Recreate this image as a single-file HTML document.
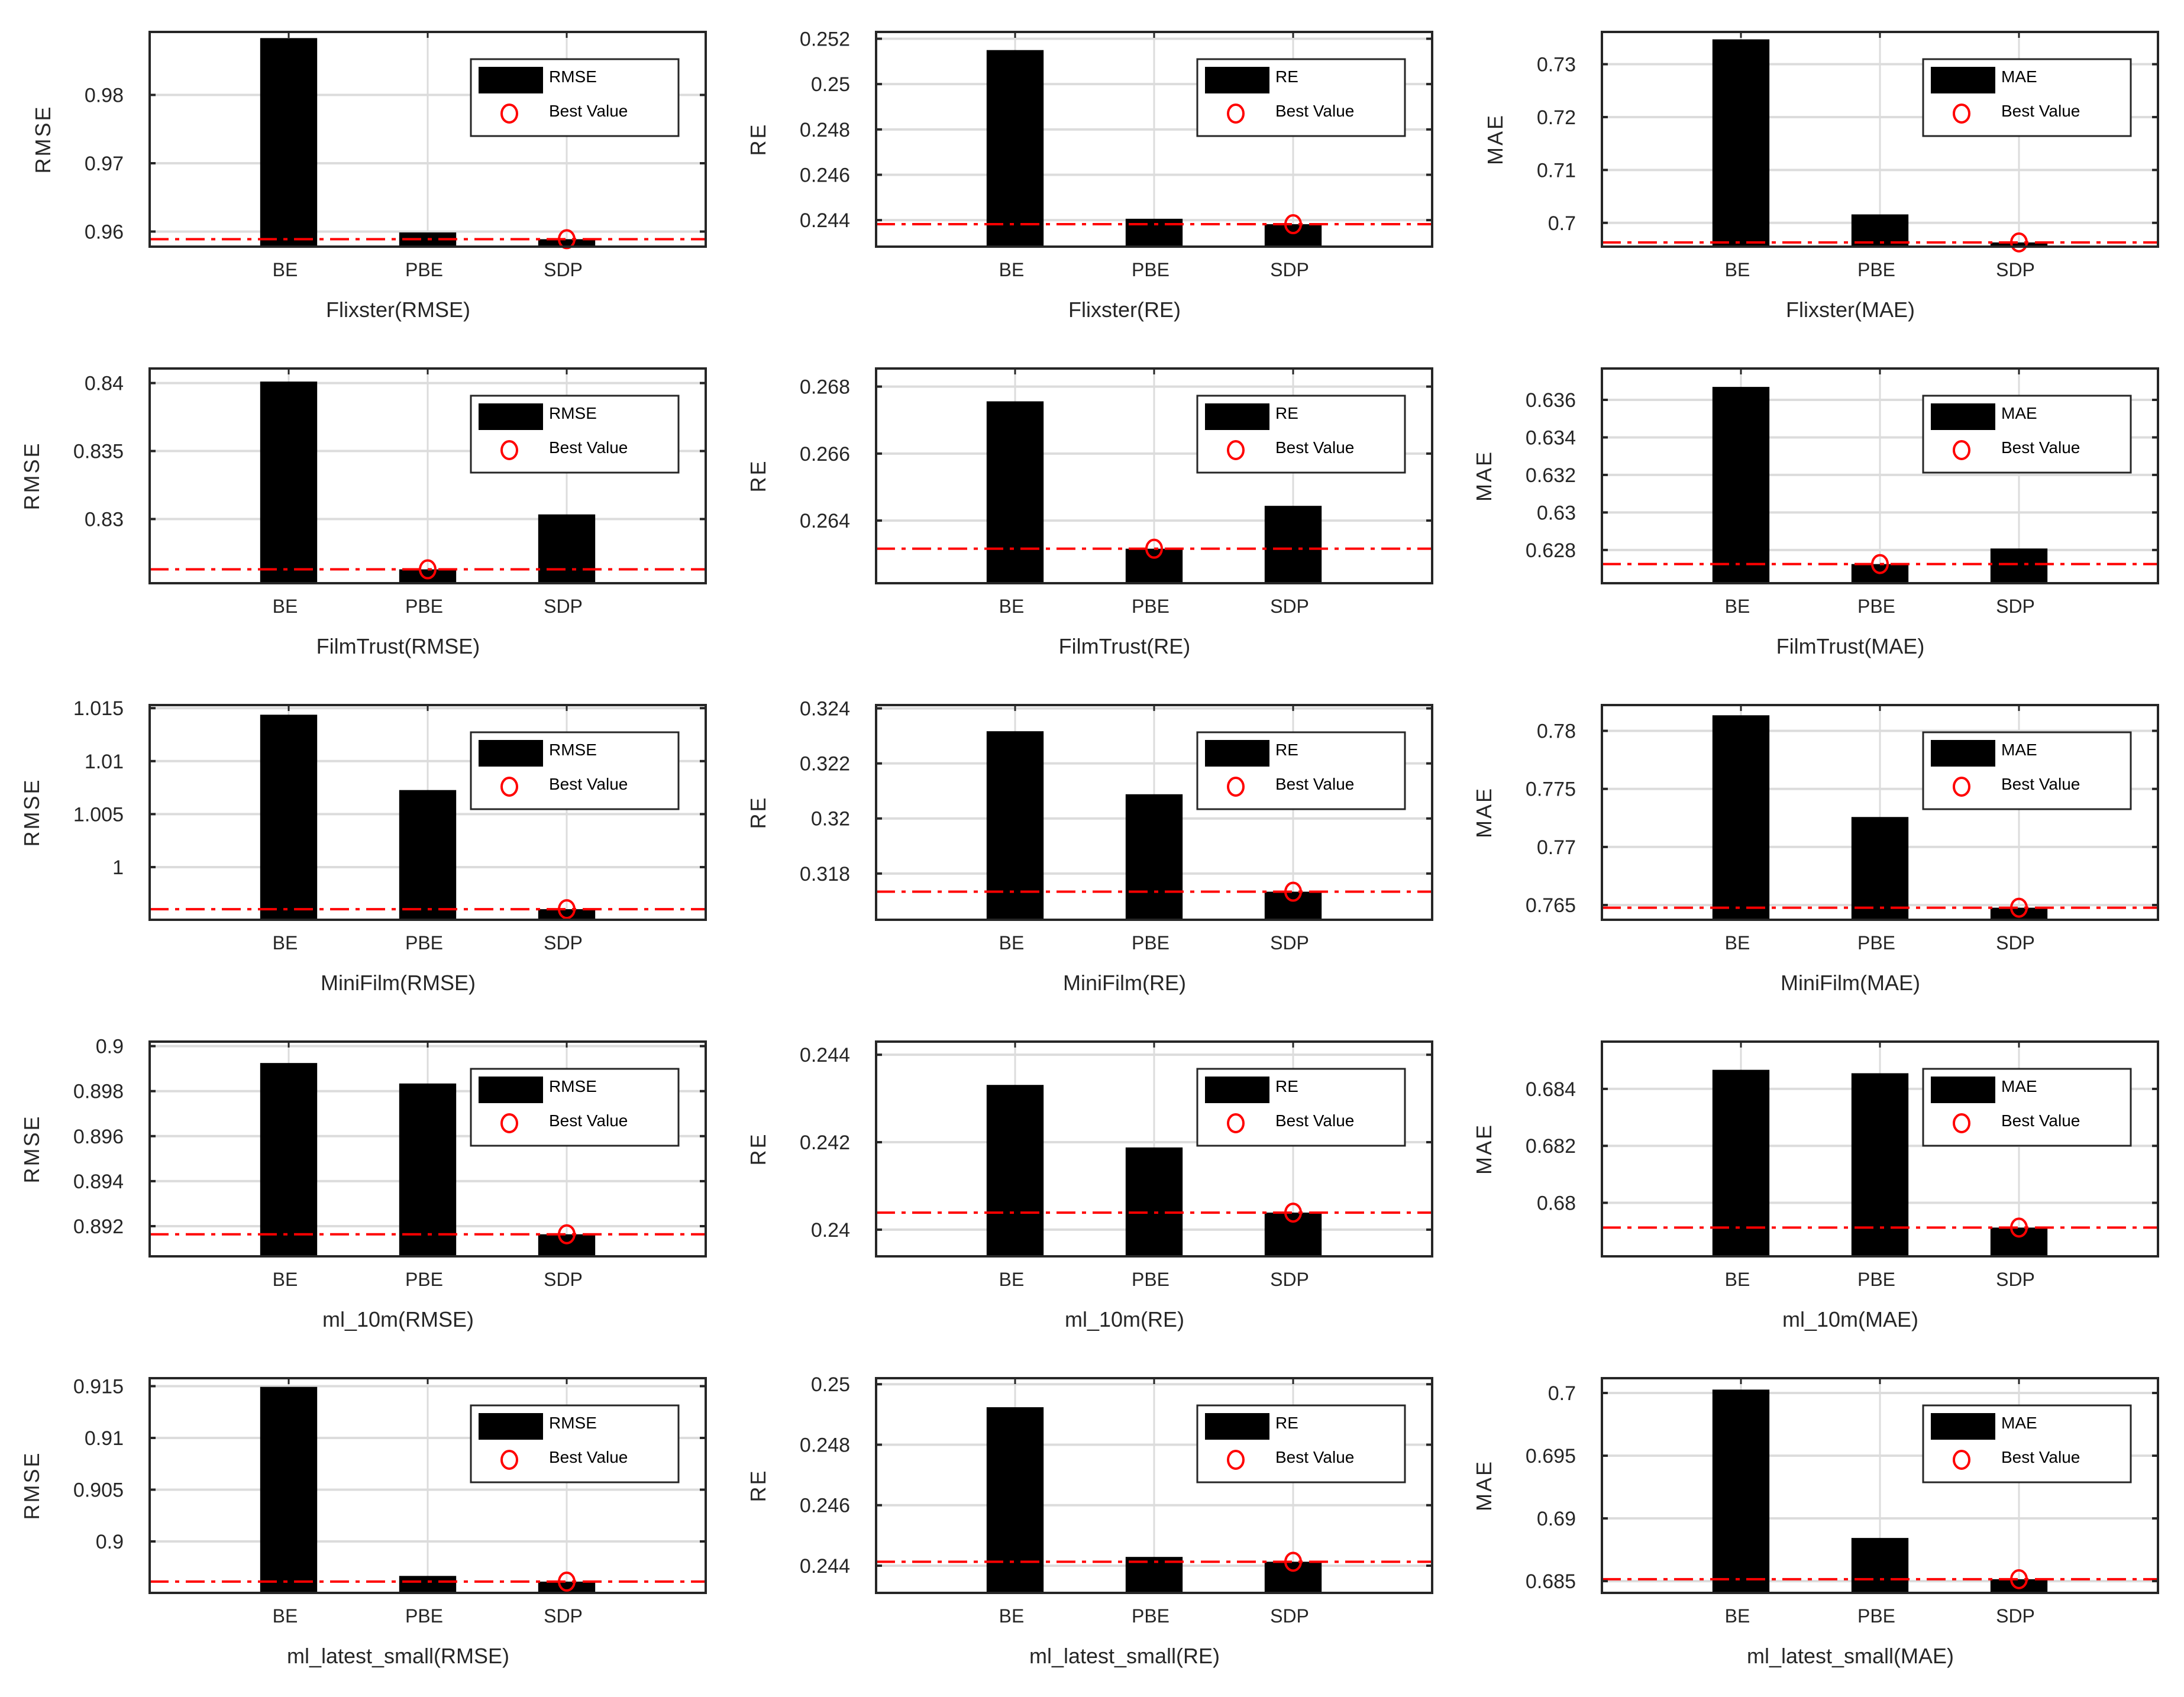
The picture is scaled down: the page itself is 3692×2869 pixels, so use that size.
<!DOCTYPE html>
<html><head><meta charset="utf-8"><style>
html,body{margin:0;padding:0;background:#fff;}
svg{display:block;font-family:"Liberation Sans",Arial,sans-serif;}
</style></head><body>
<svg id="fig" width="3692" height="2869" viewBox="0 0 3692 2869" xmlns="http://www.w3.org/2000/svg"></svg>
<script>
const categories=['BE','PBE','SDP'];
const datasets=['Flixster','FilmTrust','MiniFilm','ml_10m','ml_latest_small'];
const metrics=['RMSE','RE','MAE'];
const yMin=[0.95779,0.24283,0.6955, 0.82528,0.26213,0.62623, 0.99503,0.31632,0.76373, 0.89066,0.23939,0.67812, 0.89503,0.2431,0.68406];
const yMax=[0.98922,0.2523,0.7361, 0.84107,0.26854,0.63767, 1.01529,0.32412,0.78222, 0.9002,0.2443,0.68566, 0.91577,0.2502,0.70118];
const tickValues=[[0.96,0.97,0.98],[0.244,0.246,0.248,0.25,0.252],[0.70,0.71,0.72,0.73],
[0.83,0.835,0.84],[0.264,0.266,0.268],[0.628,0.63,0.632,0.634,0.636],
[1,1.005,1.01,1.015],[0.318,0.32,0.322,0.324],[0.765,0.77,0.775,0.78],
[0.892,0.894,0.896,0.898,0.9],[0.24,0.242,0.244],[0.68,0.682,0.684],
[0.9,0.905,0.91,0.915],[0.244,0.246,0.248,0.25],[0.685,0.69,0.695,0.7]];
const tickLabels=[['0.96','0.97','0.98'],['0.244','0.246','0.248','0.25','0.252'],['0.7','0.71','0.72','0.73'],
['0.83','0.835','0.84'],['0.264','0.266','0.268'],['0.628','0.63','0.632','0.634','0.636'],
['1','1.005','1.01','1.015'],['0.318','0.32','0.322','0.324'],['0.765','0.77','0.775','0.78'],
['0.892','0.894','0.896','0.898','0.9'],['0.24','0.242','0.244'],['0.68','0.682','0.684'],
['0.9','0.905','0.91','0.915'],['0.244','0.246','0.248','0.25'],['0.685','0.69','0.695','0.7']];
const beValues=[0.98832,0.2515,0.7347, 0.84011,0.26756,0.63669, 1.01438,0.32317,0.78134, 0.89925,0.24331,0.68467, 0.91493,0.24924,0.70027];
const pbeValues=[0.95987,0.24406,0.7016, 0.8263,0.26316,0.62725, 1.00727,0.32088,0.77258, 0.89834,0.24188,0.68455, 0.89667,0.24429,0.68844];
const sdpValues=[0.95888,0.24382,0.6963, 0.83034,0.26444,0.62808, 0.99603,0.31734,0.76477, 0.89164,0.24039,0.67913, 0.89612,0.24413,0.68515];
const bestValues=[0.95888,0.24382,0.6963, 0.8263,0.26316,0.62725, 0.99603,0.31734,0.76477, 0.89164,0.24039,0.67913, 0.89612,0.24413,0.68515];
const bestIndex=[2,2,2, 1,1,1, 2,2,2, 2,2,2, 2,2,2];

const NS='http://www.w3.org/2000/svg';
const svg=document.getElementById('fig');
function mk(tag,attrs,parent){const e=document.createElementNS(NS,tag);for(const k in attrs)e.setAttribute(k,attrs[k]);(parent||svg).appendChild(e);return e;}
const colLeft=[253,1481,2708], W=940, H=363;
const XMIN=0, XMAX=4, BARW=0.41;
for(let p=0;p<15;p++){
  const r=Math.floor(p/3), c=p%3;
  const L=colLeft[c], T=54+569*r;
  const g=mk('g',{});
  
  
  const xs=v=>L+(v-XMIN)/(XMAX-XMIN)*W;
  const ys=v=>T+H-(v-yMin[p])/(yMax[p]-yMin[p])*H;
  // grid
  for(let i=0;i<categories.length;i++){
    const gl=mk('line',{x1:xs(i+1),x2:xs(i+1),y1:T,y2:T+H,stroke:'#dcdcdc','stroke-width':3},g);
    
    
  }
  tickValues[p].forEach((tv,i)=>{
    const y=ys(tv);
    const gl=mk('line',{x1:L,x2:L+W,y1:y,y2:y,stroke:'#dcdcdc','stroke-width':4},g);
    
    
  });
  // bars
  const vals=[beValues[p],pbeValues[p],sdpValues[p]];
  vals.forEach((v,i)=>{
    const x0=xs(i+1-BARW/2), x1=xs(i+1+BARW/2), y=ys(v);
    const b=mk('rect',{x:x0,y:y,width:x1-x0,height:T+H-y,fill:'#000'},g);
    
    
  });
  // best line
  const by=ys(bestValues[p]);
  const bl=mk('line',{x1:L,x2:L+W,y1:by,y2:by,stroke:'#ff0000','stroke-width':4,'stroke-dasharray':'32 11 7 11'},g);
  
  
  const bm=mk('ellipse',{cx:xs(bestIndex[p]+1),cy:by,rx:13,ry:15,fill:'none',stroke:'#ff0000','stroke-width':4},g);
  
  
  // axes box
  const box=mk('rect',{x:L,y:T,width:W,height:H,fill:'none',stroke:'#262626','stroke-width':4},g);
  
  
  // ticks
  for(let i=0;i<categories.length;i++){
    const x=xs(i+1);
    const tk=mk('line',{x1:x,x2:x,y1:T,y2:T+10,stroke:'#262626','stroke-width':3},g);
    
    
    const tl=mk('text',{x:x-6,y:T+H+50,'font-size':32,'text-anchor':'middle',fill:'#262626'},g);
    tl.textContent=categories[i];
    
    
  }
  let maxW=0;
  tickValues[p].forEach((tv,i)=>{
    const y=ys(tv);
    const t1=mk('line',{x1:L,x2:L+10,y1:y,y2:y,stroke:'#262626','stroke-width':4},g);
    
    
    const t2=mk('line',{x1:L+W-10,x2:L+W,y1:y,y2:y,stroke:'#262626','stroke-width':4},g);
    
    
    const tl=mk('text',{x:L-44,y:y+12,'font-size':34,'text-anchor':'end',fill:'#262626'},g);
    tl.textContent=tickLabels[p][i];
    
    
    maxW=Math.max(maxW,tl.getComputedTextLength());
  });
  const ylx=L-44-maxW-58;
  const yl=mk('text',{x:ylx,y:T+H/2,'font-size':36,'text-anchor':'middle',fill:'#262626','letter-spacing':'3',transform:'rotate(-90 '+ylx+' '+(T+H/2)+')'},g);
  yl.textContent=metrics[c];
  
  
  const xt=mk('text',{x:L+W/2-50,y:T+H+119,'font-size':36,'text-anchor':'middle',fill:'#262626'},g);
  xt.textContent=datasets[r]+'('+metrics[c]+')';
  
  
  // legend
  const lg=mk('g',{},g);
  
  
  const LX=L+543, LY=T+46;
  mk('rect',{x:LX,y:LY,width:351,height:130,fill:'#fff',stroke:'#262626','stroke-width':3},lg);
  const sw=mk('rect',{x:LX+13,y:LY+13,width:109,height:45,fill:'#000'},lg);
  
  
  const t1=mk('text',{x:LX+132,y:LY+39,'font-size':28,fill:'#000'},lg);
  t1.textContent=metrics[c];
  
  
  const mc=mk('ellipse',{cx:LX+65,cy:LY+92,rx:13,ry:15,fill:'none',stroke:'#ff0000','stroke-width':4},lg);
  
  
  const t2=mk('text',{x:LX+132,y:LY+97,'font-size':28,fill:'#000'},lg);
  t2.textContent='Best Value';
  
  
}
</script>
</body></html>
